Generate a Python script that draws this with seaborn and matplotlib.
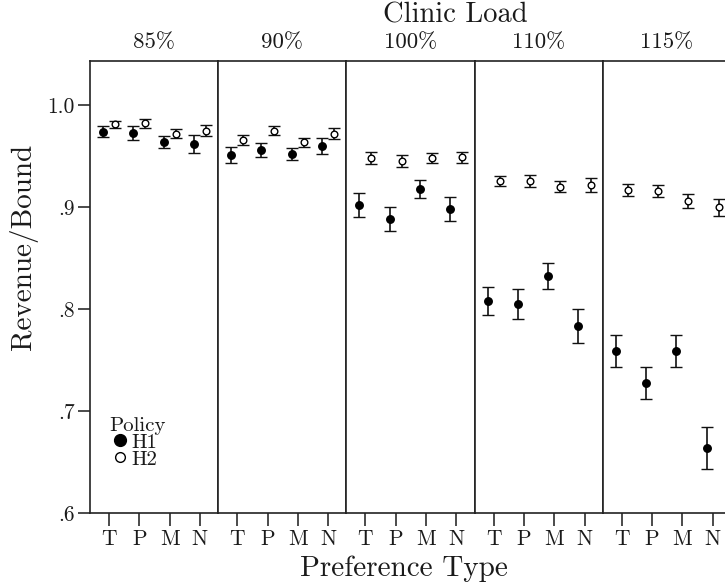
import numpy as np
import pandas as pd
import matplotlib
matplotlib.use("Agg")
import matplotlib.pyplot as plt
import seaborn as sns
from matplotlib.lines import Line2D

# ---- data ----
loads = ["85%", "90%", "100%", "110%", "115%"]
types = ["T", "P", "M", "N"]
policies = ["H1", "H2"]

h1_mean = [[0.974, 0.9725, 0.9634, 0.9615],
           [0.951, 0.956, 0.952, 0.960],
           [0.902, 0.888, 0.9176, 0.898],
           [0.808, 0.805, 0.832, 0.783],
           [0.759, 0.7275, 0.759, 0.664]]
h1_err = [[0.0054, 0.007, 0.006, 0.0086],
          [0.0077, 0.007, 0.0062, 0.0077],
          [0.0114, 0.012, 0.0087, 0.012],
          [0.014, 0.0144, 0.0127, 0.0167],
          [0.016, 0.016, 0.016, 0.0206]]
h2_mean = [[0.981, 0.982, 0.972, 0.975],
           [0.966, 0.975, 0.9634, 0.972],
           [0.948, 0.9448, 0.948, 0.9487],
           [0.9258, 0.9258, 0.920, 0.9219],
           [0.9167, 0.916, 0.906, 0.8997]]
h2_err = [[0.0036, 0.0046, 0.004, 0.005],
          [0.005, 0.004, 0.0044, 0.005],
          [0.0055, 0.006, 0.005, 0.0055],
          [0.005, 0.006, 0.0057, 0.007],
          [0.0057, 0.006, 0.0065, 0.0085]]

ytick_vals = [0.6, 0.7, 0.8, 0.9, 1.0]
ytick_labels = [".6", ".7", ".8", ".9", "1.0"]

rows = []
for i, ld in enumerate(loads):
    for j, t in enumerate(types):
        rows.append(dict(load=ld, ptype=t, xi=j, policy="H1", mean=h1_mean[i][j], err=h1_err[i][j]))
        rows.append(dict(load=ld, ptype=t, xi=j, policy="H2", mean=h2_mean[i][j], err=h2_err[i][j]))
df = pd.DataFrame(rows)

# ---- style ----
sns.set_style("ticks")
plt.rcParams["font.family"] = ["cmr10", "DejaVu Serif"]
plt.rcParams["axes.formatter.use_mathtext"] = True
TXT = "#1a1a1a"

W, H = 725, 587
g = sns.FacetGrid(df, col="load", col_order=loads, sharey=True, sharex=True,
                  height=5.87, aspect=0.25, despine=False)
g.figure.set_size_inches(W / 100, H / 100)

DODGE = 0.2
styles = {"H1": dict(mfc="black", mec="black", ms=5.4, mew=1.0),
          "H2": dict(mfc="white", mec="black", ms=4.8, mew=1.0)}


def draw(data, **kw):
    ax = plt.gca()
    for k, pol in enumerate(policies):
        d = data[data["policy"] == pol]
        off = -DODGE if pol == "H1" else DODGE
        ax.errorbar(d["xi"] + off, d["mean"], yerr=d["err"], fmt="o",
                    color="black", ecolor="#111111", elinewidth=1.2,
                    capsize=4.2, capthick=1.2, zorder=3, **styles[pol])


g.map_dataframe(draw)

# ---- layout (pixel geometry) ----
left_px, top_px, bot_px = 90, 61, 513
pw = 128.2
for i, ax in enumerate(g.axes.flat):
    l = (left_px + i * pw) / W
    ax.set_position([l, (H - bot_px) / H, pw / W, (bot_px - top_px) / H])
    ax.set_xlim(-19 / 30.3, -19 / 30.3 + pw / 30.3)
    ax.set_ylim(0.6, 0.6 + (bot_px - top_px) * 0.1 / 102)
    ax.set_xticks(range(len(types)))
    ax.set_xticklabels(types, fontsize=15.5, color=TXT)
    ax.tick_params(axis="x", direction="out", length=9, width=1.1, pad=3, colors=TXT)
    ax.set_title("")
    ax.set_xlabel("")
    ax.set_ylabel("")
    for s in ax.spines.values():
        s.set_linewidth(1.2)
        s.set_color("#222222")
    ax.text(0.5, 1.0 + 19 / (bot_px - top_px), loads[i], transform=ax.transAxes,
            ha="center", va="center", fontsize=16.5, color=TXT)
    if i == 0:
        ax.set_yticks(ytick_vals)
        ax.set_yticklabels(ytick_labels, fontsize=15.5, color=TXT)
        ax.tick_params(axis="y", direction="out", length=9, width=1.1, pad=2, colors=TXT)
    else:
        ax.tick_params(axis="y", left=False, labelleft=False)

ax0 = g.axes.flat[0]
handles = [Line2D([], [], ls="none", marker="o", mfc="black", mec="black", ms=8.5),
           Line2D([], [], ls="none", marker="o", mfc="white", mec="black", ms=7, mew=1.0)]
leg = ax0.legend(handles, policies, title="Policy", loc="lower left",
                 bbox_to_anchor=(0.15, 0.098), frameon=False, fontsize=15,
                 title_fontsize=15, handlelength=1.0, handletextpad=0.05,
                 labelspacing=-0.08, borderpad=0, borderaxespad=0, alignment="left")
for t in leg.get_texts():
    t.set_color(TXT)
leg.get_title().set_color(TXT)

fig = g.figure
fig.text(455 / W, 1 - 15 / H, "Clinic Load", ha="center", va="center", fontsize=20.5, color=TXT)
fig.text(404 / W, 1 - 569 / H, "Preference Type", ha="center", va="center", fontsize=21, color=TXT)
fig.text(24 / W, 1 - 247 / H, "Revenue/Bound", ha="center", va="center", rotation=90,
         fontsize=21, color=TXT)

fig.savefig("out.png", dpi=100)
